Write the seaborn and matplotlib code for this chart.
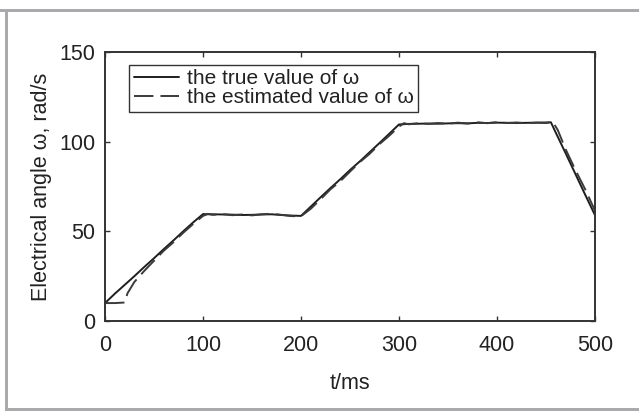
import matplotlib
matplotlib.use("Agg")
import matplotlib.pyplot as plt
from matplotlib.patches import Rectangle
import seaborn as sns
import pandas as pd

# Sampled speed traces (time in ms, electrical angular speed in rad/s)
t_true = [0, 10, 20, 30, 40, 50, 60, 70, 80, 90, 100, 110, 120, 130, 140, 150,
          160, 170, 180, 190, 200, 210, 220, 230, 240, 250, 260, 270, 280, 290,
          300, 310, 320, 330, 340, 350, 360, 370, 380, 390, 400, 410, 420, 430,
          440, 450, 455, 460, 470, 480, 490, 500]
w_true = [10.0, 15.2, 20.1, 25.0, 30.1, 35.0, 40.1, 45.0, 50.1, 55.0, 59.6, 59.5,
          59.4, 59.3, 59.1, 59.2, 59.4, 59.5, 59.1, 58.8, 58.6, 63.8, 69.0, 74.1,
          79.0, 84.2, 89.0, 94.1, 99.2, 104.4, 109.6, 109.9, 110.0, 110.1, 110.0,
          110.2, 110.3, 110.2, 110.5, 110.4, 110.6, 110.5, 110.4, 110.5, 110.6,
          110.7, 110.8, 105.0, 93.6, 82.0, 70.4, 59.0]

t_est = [0, 10, 20, 23, 30, 40, 50, 60, 70, 80, 90, 100, 105, 110, 120, 130, 140,
         150, 160, 170, 180, 190, 200, 205, 210, 220, 230, 240, 250, 260, 270,
         280, 290, 300, 305, 310, 320, 330, 340, 350, 360, 370, 380, 390, 400,
         410, 420, 430, 440, 450, 457, 462, 470, 480, 490, 500]
w_est = [10.0, 10.0, 10.3, 15.5, 21.8, 27.9, 33.6, 39.2, 44.0, 49.3, 54.1, 58.6,
         59.7, 59.2, 59.6, 59.0, 59.4, 58.9, 59.5, 59.8, 59.2, 58.5, 58.4, 60.5,
         62.6, 67.9, 73.4, 77.9, 83.3, 88.6, 93.2, 98.6, 103.3, 108.4, 110.3,
         109.7, 110.3, 109.9, 110.4, 110.0, 110.6, 110.1, 110.8, 110.3, 110.9,
         110.4, 110.7, 110.3, 110.6, 110.4, 111.0, 106.5, 95.8, 84.2, 73.4, 61.5]

series_names = ["the true value of ω", "the estimated value of ω"]
x_ticks = [0, 100, 200, 300, 400, 500]
y_ticks = [0, 50, 100, 150]

df = pd.concat([
    pd.DataFrame({"t": t_true, "w": w_true, "series": series_names[0]}),
    pd.DataFrame({"t": t_est, "w": w_est, "series": series_names[1]}),
], ignore_index=True)

sns.set_theme(style="ticks")
plt.rcParams["font.family"] = ["Liberation Sans", "DejaVu Sans"]
ink = "#222222"

fig = plt.figure(figsize=(6.39, 4.12), dpi=100)
fig.patch.set_facecolor("white")

# light grey frame around the panel (top, left, bottom edges)
frame_col = "#aaaaac"
fig.add_artist(Rectangle((0, 1 - 12 / 412), 1, 3 / 412, transform=fig.transFigure,
                         color=frame_col, lw=0))
fig.add_artist(Rectangle((5 / 639, 1 / 412), 3 / 639, 1 - 13 / 412,
                         transform=fig.transFigure, color=frame_col, lw=0))
fig.add_artist(Rectangle((5 / 639, 1 / 412), 1, 3 / 412, transform=fig.transFigure,
                         color=frame_col, lw=0))

ax = fig.add_axes([105 / 639, 91 / 412, 490 / 639, 269 / 412])

sns.lineplot(data=df, x="t", y="w", hue="series", style="series",
             hue_order=series_names, style_order=series_names,
             palette=["#1e1e1e", "#3a3a3a"],
             dashes={series_names[0]: "", series_names[1]: (10, 3.6)},
             sort=False, estimator=None, ax=ax, lw=1.4)

ax.set_xlim(0, 500)
ax.set_ylim(0, 150)
ax.set_xticks(x_ticks)
ax.set_yticks(y_ticks)
ax.tick_params(direction="in", length=3.5, width=1.0, top=True, right=True,
               labelsize=15.5, colors=ink, color="#333333")
ax.tick_params(axis="x", pad=10)
ax.tick_params(axis="y", pad=7)
for s in ax.spines.values():
    s.set_visible(True)
    s.set_color("#333333")
    s.set_linewidth(1.4)

ax.set_xlabel("t/ms", fontsize=15.5, color=ink, labelpad=12)
ax.set_ylabel("Electrical angle ω, rad/s", fontsize=15.5, color=ink, labelpad=5)

leg = ax.legend(loc="upper left", bbox_to_anchor=(0.049, 0.952), borderaxespad=0,
                fontsize=15, frameon=True, fancybox=False, framealpha=1,
                edgecolor="#333333", handlelength=2.2, handletextpad=0.35,
                borderpad=0.22, labelspacing=0.0)
leg.get_frame().set_linewidth(1.0)
for txt in leg.get_texts():
    txt.set_color(ink)

fig.savefig("out.png", dpi=100, facecolor="white")
